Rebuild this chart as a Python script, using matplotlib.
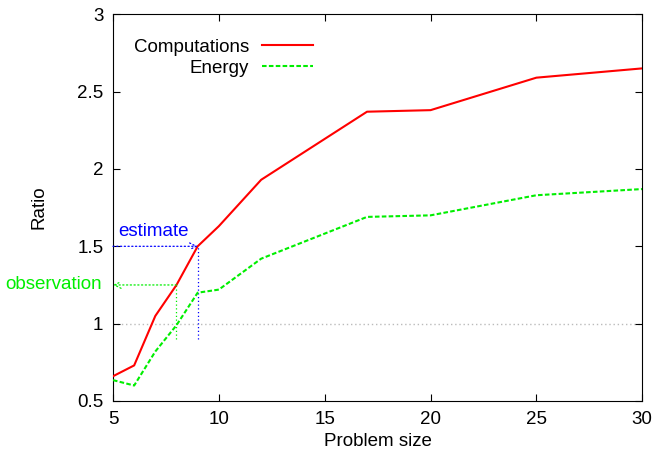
import matplotlib
matplotlib.use("Agg")
import matplotlib.pyplot as plt
from matplotlib.lines import Line2D

plt.rcParams['font.family'] = ['Liberation Sans', 'DejaVu Sans']

# --- dados ---
sizes = [5, 6, 7, 8, 9, 10, 12, 17, 20, 25, 30]
computations = [0.66, 0.73, 1.05, 1.25, 1.50, 1.63, 1.93, 2.37, 2.38, 2.59, 2.65]
energy = [0.635, 0.60, 0.82, 0.99, 1.20, 1.22, 1.42, 1.69, 1.70, 1.83, 1.87]

est_x, est_y = 9, 1.5
obs_x, obs_y = 8, 1.25
vline_bottom = 0.9

xticks = [5, 10, 15, 20, 25, 30]
yticks = [0.5, 1, 1.5, 2, 2.5, 3]

fs = 13.5

fig = plt.figure(figsize=(6.55, 4.55), dpi=100)
ax = fig.add_axes([0.1725, 0.1187, 0.808, 0.850])

ax.axhline(1, color='#bbbbbb', lw=1, ls=(0, (1, 2)), zorder=1)

ax.plot(sizes, computations, color='#ff0000', lw=1.5, label='Computations', zorder=3)
ax.plot(sizes, energy, color='#00ee00', lw=1.5, ls=(0, (2.2, 1.1)), label='Energy', zorder=3)

# --- setas de estimativa / observacao ---
ax.plot([est_x, est_x], [vline_bottom, est_y], color='#0000ff', lw=0.9, ls=(0, (1, 2)), zorder=2)
ax.annotate('', xy=(est_x, est_y), xytext=(5, est_y),
            arrowprops=dict(arrowstyle='->', color='#0000ff', lw=0.9, ls=(0, (1, 2)),
                            shrinkA=0, shrinkB=0, mutation_scale=12))
ax.text(5.27, 1.595, 'estimate', color='#0000ff', fontsize=fs, ha='left', va='center')

ax.plot([obs_x, obs_x], [vline_bottom, obs_y], color='#00ee00', lw=0.9, ls=(0, (1, 2)), zorder=2)
ax.annotate('', xy=(5, obs_y), xytext=(obs_x, obs_y),
            arrowprops=dict(arrowstyle='->', color='#00ee00', lw=0.9, ls=(0, (1, 2)),
                            shrinkA=0, shrinkB=0, mutation_scale=12))
ax.text(4.47, obs_y, 'observation', color='#00ee00', fontsize=fs, ha='right', va='center',
        clip_on=False)

ax.set_xlim(5, 30)
ax.set_ylim(0.5, 3)
ax.set_xticks(xticks)
ax.set_yticks(yticks)
ax.set_yticklabels(['0.5', '1', '1.5', '2', '2.5', '3'])
ax.tick_params(direction='in', top=True, right=True, labelsize=fs, length=5, pad=7)
ax.set_xlabel('Problem size', fontsize=fs, labelpad=4)
ax.set_ylabel('Ratio', fontsize=fs, labelpad=21)

handles = [Line2D([], [], color='#ff0000', lw=1.5),
           Line2D([], [], color='#00ee00', lw=1.5, ls=(0, (2.2, 1.1)))]
leg = ax.legend(handles, ['Computations', 'Energy'], loc='upper left',
                bbox_to_anchor=(0.007, 0.98), frameon=False, markerfirst=False,
                fontsize=fs, handlelength=2.7, labelspacing=0.2, handletextpad=0.7)
for t in leg.get_texts():
    t.set_ha('right')
leg._legend_box.align = 'right'

fig.savefig('out.png', dpi=100)
